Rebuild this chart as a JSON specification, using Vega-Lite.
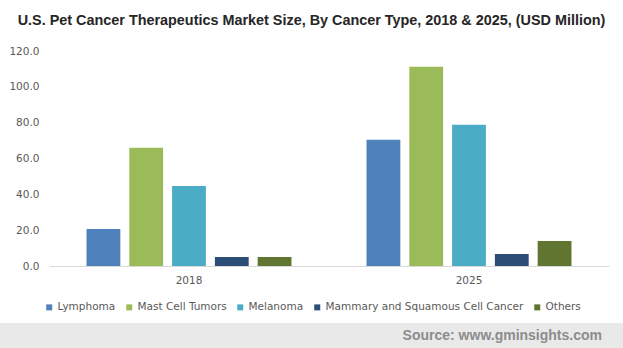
{
  "$schema": "https://vega.github.io/schema/vega-lite/v6.json",
  "padding": {"left": 0, "right": 0, "top": 12, "bottom": 0},
  "background": "white",
  "title": {
    "text": "U.S. Pet Cancer Therapeutics Market Size, By Cancer Type, 2018 & 2025, (USD Million)",
    "font": "Liberation Sans",
    "fontSize": 14.4,
    "fontWeight": "bold",
    "color": "#262626",
    "anchor": "middle",
    "offset": 18
  },
  "spacing": 37,
  "vconcat": [
    {
      "width": 623,
      "height": 215,
      "data": {
        "values": [
          {"year": "2018", "type": "Lymphoma", "value": 20.7},
          {"year": "2018", "type": "Mast Cell Tumors", "value": 66.0},
          {"year": "2018", "type": "Melanoma", "value": 44.7},
          {"year": "2018", "type": "Mammary and Squamous Cell Cancer", "value": 5.0},
          {"year": "2018", "type": "Others", "value": 5.0},
          {"year": "2025", "type": "Lymphoma", "value": 70.4},
          {"year": "2025", "type": "Mast Cell Tumors", "value": 111.2},
          {"year": "2025", "type": "Melanoma", "value": 78.8},
          {"year": "2025", "type": "Mammary and Squamous Cell Cancer", "value": 6.7},
          {"year": "2025", "type": "Others", "value": 14.0}
        ]
      },
      "view": {"stroke": null},
      "mark": {"type": "bar"},
      "encoding": {
        "x": {
          "field": "year",
          "type": "nominal",
          "scale": {"range": [49, 609], "paddingInner": 0.268, "paddingOuter": 0.134},
          "axis": {
            "title": null,
            "labelAngle": 0,
            "ticks": false,
            "domainColor": "#d9d9d9",
            "domainWidth": 1,
            "labelFont": "DejaVu Sans",
            "labelFontSize": 10.5,
            "labelColor": "#595959",
            "labelPadding": 9
          }
        },
        "xOffset": {
          "field": "type",
          "type": "nominal",
          "sort": ["Lymphoma", "Mast Cell Tumors", "Melanoma", "Mammary and Squamous Cell Cancer", "Others"],
          "scale": {"paddingInner": 0.21, "paddingOuter": 0}
        },
        "y": {
          "field": "value",
          "type": "quantitative",
          "scale": {"domain": [0, 120], "nice": false},
          "axis": {
            "title": null,
            "values": [0, 20, 40, 60, 80, 100, 120],
            "format": ".1f",
            "grid": false,
            "domain": false,
            "ticks": false,
            "offset": -49,
            "labelFont": "DejaVu Sans",
            "labelFontSize": 10.5,
            "labelColor": "#595959",
            "labelPadding": 10
          }
        },
        "color": {
          "field": "type",
          "type": "nominal",
          "scale": {
            "domain": ["Lymphoma", "Mast Cell Tumors", "Melanoma", "Mammary and Squamous Cell Cancer", "Others"],
            "range": ["#4f81bd", "#9bbb59", "#4bacc6", "#2c4d75", "#5f7530"]
          },
          "legend": {
            "title": null,
            "orient": "none",
            "direction": "horizontal",
            "legendX": 44,
            "legendY": 251,
            "symbolType": "square",
            "symbolSize": 36,
            "symbolStrokeWidth": 0,
            "labelFont": "DejaVu Sans",
            "labelFontSize": 10.5,
            "labelColor": "#595959",
            "labelOffset": 3,
            "labelLimit": 0,
            "columnPadding": 8
          }
        }
      }
    },
    {
      "width": 623,
      "height": 25,
      "view": {"fill": "#e9e9e9", "stroke": null},
      "data": {"values": [{"source": "Source: www.gminsights.com"}]},
      "mark": {
        "type": "text",
        "align": "right",
        "baseline": "middle",
        "dx": 290.5,
        "font": "Liberation Sans",
        "fontSize": 14,
        "fontWeight": "bold",
        "color": "#8c8c8c"
      },
      "encoding": {"text": {"field": "source"}}
    }
  ]
}
